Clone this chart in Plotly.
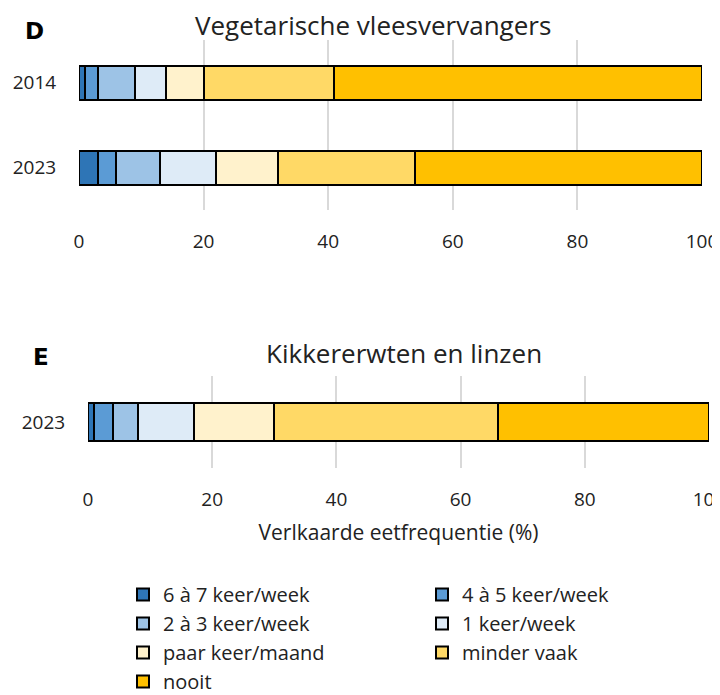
import plotly.graph_objects as go

categories = ["6 à 7 keer/week", "4 à 5 keer/week", "2 à 3 keer/week", "1 keer/week",
              "paar keer/maand", "minder vaak", "nooit"]
colors = ["#2E75B6", "#5B9BD5", "#9DC3E6", "#DEEBF7", "#FFF2CC", "#FFD966", "#FFC000"]

years_d = ["2014", "2023"]
values_d_2014 = [1, 2, 6, 5, 6, 21, 59]
values_d_2023 = [3, 3, 7, 9, 10, 22, 46]

years_e = ["2023"]
values_e_2023 = [1, 3, 4, 9, 13, 36, 34]

x_ticks = [0, 20, 40, 60, 80, 100]

FONT = "Open Sans"
TXT = "#222222"
# the page body adds an 8 px offset; the figure fills the rest of the 720x695 window
OFF = 8
W, H = 720 - OFF, 695 - OFF

def px(x):
    return (x - OFF) / W

def py(y):
    return 1 - (y - OFF) / H

fig = go.Figure()
for i, cat in enumerate(categories):
    fig.add_trace(go.Bar(
        y=years_d, x=[values_d_2014[i], values_d_2023[i]], orientation="h",
        name=cat, legendgroup=cat, showlegend=True,
        marker=dict(color=colors[i], line=dict(color="#000000", width=2)),
        width=0.4, xaxis="x", yaxis="y", hoverinfo="skip"))
    fig.add_trace(go.Bar(
        y=years_e, x=[values_e_2023[i]], orientation="h",
        name=cat, legendgroup=cat, showlegend=False,
        marker=dict(color=colors[i], line=dict(color="#000000", width=2)),
        width=0.41, xaxis="x2", yaxis="y2", hoverinfo="skip"))

axis_common = dict(range=[0, 100], tickvals=x_ticks, showgrid=True, gridcolor="#d9d9d9",
                   gridwidth=2, zeroline=False, showline=False, ticks="outside",
                   ticklen=14, tickcolor="rgba(0,0,0,0)", automargin=False,
                   ticklabeloverflow="allow",
                   tickfont=dict(family=FONT, size=19, color=TXT))
yaxis_common = dict(showgrid=False, zeroline=False, showline=False, ticks="outside",
                    ticklen=18, tickcolor="rgba(0,0,0,0)", automargin=False,
                    tickfont=dict(family=FONT, size=19, color=TXT), type="category")

fig.update_layout(
    width=W, height=H, margin=dict(l=0, r=0, t=0, b=0, autoexpand=False),
    paper_bgcolor="white", plot_bgcolor="white", barmode="stack",
    font=dict(family=FONT, color=TXT),
    xaxis=dict(domain=[px(79), px(702)], anchor="y", **axis_common),
    yaxis=dict(domain=[py(210), py(40)], anchor="x", range=[1.5, -0.5], **yaxis_common),
    xaxis2=dict(domain=[px(88), px(709)], anchor="y2",
                title=dict(text="Verlkaarde eetfrequentie (%)", standoff=14,
                           font=dict(family=FONT, size=21, color=TXT)),
                **axis_common),
    yaxis2=dict(domain=[py(468), py(376)], anchor="x2", range=[0.5, -0.5], **yaxis_common),
    legend=dict(orientation="h", x=px(123), y=py(575), xanchor="left", yanchor="top",
                entrywidth=254, entrywidthmode="pixels", traceorder="normal",
                font=dict(family=FONT, size=20, color=TXT), bgcolor="rgba(0,0,0,0)"),
    showlegend=True,
    annotations=[
        dict(text="<b>D</b>", x=px(34), y=py(31), xref="paper", yref="paper", showarrow=False,
             xanchor="center", yanchor="middle",
             font=dict(family="DejaVu Sans", size=23, color="#000000")),
        dict(text="Vegetarische vleesvervangers", x=px(373), y=py(25), xref="paper", yref="paper",
             showarrow=False, xanchor="center", yanchor="middle",
             font=dict(family=FONT, size=26, color=TXT)),
        dict(text="<b>E</b>", x=px(41), y=py(357), xref="paper", yref="paper", showarrow=False,
             xanchor="center", yanchor="middle",
             font=dict(family="DejaVu Sans", size=23, color="#000000")),
        dict(text="Kikkererwten en linzen", x=px(404), y=py(353), xref="paper", yref="paper",
             showarrow=False, xanchor="center", yanchor="middle",
             font=dict(family=FONT, size=26, color=TXT)),
    ],
)

fig.write_html("out.html")
